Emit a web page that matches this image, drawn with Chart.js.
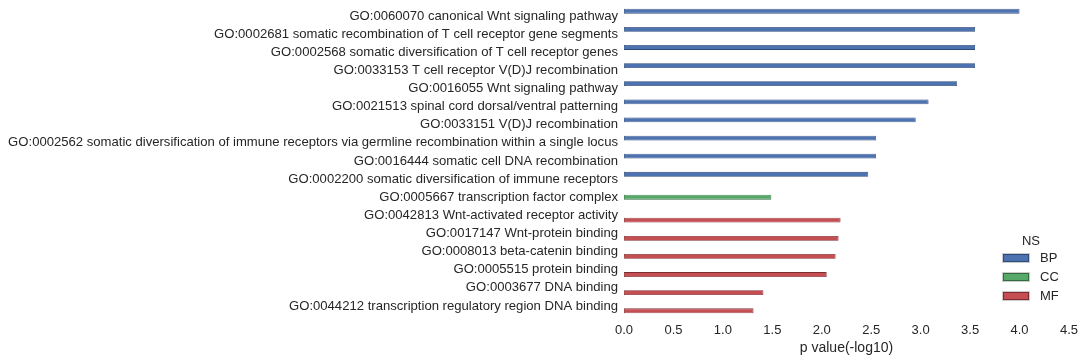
<!DOCTYPE html>
<html><head><meta charset="utf-8">
<script src="https://cdn.jsdelivr.net/npm/chart.js@4/dist/chart.umd.min.js"></script>
<style>html,body{margin:0;padding:0;background:#fff}#wrap{width:1086px;height:362px}</style>
</head><body><div id="wrap"><canvas id="c" width="1086" height="362"></canvas></div>
<script>
const categories = [
  "GO:0060070 canonical Wnt signaling pathway",
  "GO:0002681 somatic recombination of T cell receptor gene segments",
  "GO:0002568 somatic diversification of T cell receptor genes",
  "GO:0033153 T cell receptor V(D)J recombination",
  "GO:0016055 Wnt signaling pathway",
  "GO:0021513 spinal cord dorsal/ventral patterning",
  "GO:0033151 V(D)J recombination",
  "GO:0002562 somatic diversification of immune receptors via germline recombination within a single locus",
  "GO:0016444 somatic cell DNA recombination",
  "GO:0002200 somatic diversification of immune receptors",
  "GO:0005667 transcription factor complex",
  "GO:0042813 Wnt-activated receptor activity",
  "GO:0017147 Wnt-protein binding",
  "GO:0008013 beta-catenin binding",
  "GO:0005515 protein binding",
  "GO:0003677 DNA binding",
  "GO:0044212 transcription regulatory region DNA binding"
];
const namespaces = ["BP","BP","BP","BP","BP","BP","BP","BP","BP","BP","CC","MF","MF","MF","MF","MF","MF"];
const pValues = [4.00, 3.55, 3.55, 3.55, 3.37, 3.08, 2.95, 2.55, 2.55, 2.47, 1.49, 2.19, 2.17, 2.14, 2.05, 1.41, 1.31];
const hueLevels = ["BP","CC","MF"];
const xTicks = [0, 0.5, 1, 1.5, 2, 2.5, 3, 3.5, 4, 4.5];

const fills = {BP:"#4C72B0", CC:"#55A868", MF:"#C44E52"};
const edges = {BP:"#2f4a78", CC:"#336b40", MF:"#7e2d30"};
const textColor = "#262626";
const fontFam = "'Liberation Sans', Arial, sans-serif";

const datasets = hueLevels.map(h => ({
  label: h,
  data: pValues.map((v,i) => namespaces[i] === h ? v : null),
  backgroundColor: fills[h],
  borderColor: edges[h],
  borderWidth: 0.8,
  borderSkipped: false,
  categoryPercentage: 0.8,
  barPercentage: 1.0
}));

const legendPlugin = {
  id: 'nsLegend',
  afterDraw(chart) {
    const ctx = chart.ctx;
    ctx.save();
    ctx.fillStyle = textColor;
    ctx.font = "13px " + fontFam;
    ctx.textAlign = "center";
    ctx.textBaseline = "middle";
    ctx.fillText("NS", 1031, 241);
    chart.data.datasets.forEach((ds, i) => {
      const y = 258 + i * 19;
      ctx.fillStyle = "#cccccc";
      ctx.fillRect(1002, y - 5, 28, 10);
      ctx.fillStyle = ds.backgroundColor;
      ctx.fillRect(1003, y - 4, 26, 8);
      ctx.strokeStyle = ds.borderColor;
      ctx.lineWidth = 1;
      ctx.strokeRect(1003.5, y - 3.5, 25, 7);
      ctx.fillStyle = textColor;
      ctx.textAlign = "left";
      ctx.fillText(ds.label, 1040, y);
    });
    ctx.restore();
  }
};

new Chart(document.getElementById('c'), {
  type: 'bar',
  data: { labels: categories, datasets },
  options: {
    indexAxis: 'y',
    responsive: false,
    animation: false,
    devicePixelRatio: 1,
    layout: { padding: { left: 0, right: 16, top: 7, bottom: 0 } },
    plugins: { legend: { display: false }, tooltip: { enabled: false } },
    scales: {
      x: {
        type: 'linear', min: 0, max: 4.5,
        afterBuildTicks(scale) { scale.ticks = xTicks.map(v => ({ value: v })); },
        grid: { display: false, drawTicks: false },
        border: { display: false },
        ticks: {
          color: textColor, padding: 8, maxRotation: 0,
          font: { family: fontFam, size: 13 },
          callback: v => Number(v).toFixed(1)
        },
        title: { display: true, text: "p value(-log10)", color: textColor,
          font: { family: fontFam, size: 14 }, padding: { top: 4, bottom: 5 } },
        afterFit(scale) { scale.height = 47; }
      },
      y: {
        grid: { display: false, drawTicks: false },
        border: { display: false },
        ticks: { color: textColor, padding: 6, autoSkip: false,
          font: { family: fontFam, size: 13.1 } },
        afterFit(scale) { scale.width = 624; scale.paddingTop = 0; scale.paddingBottom = 0; }
      }
    }
  },
  plugins: [legendPlugin]
});
</script></body></html>
